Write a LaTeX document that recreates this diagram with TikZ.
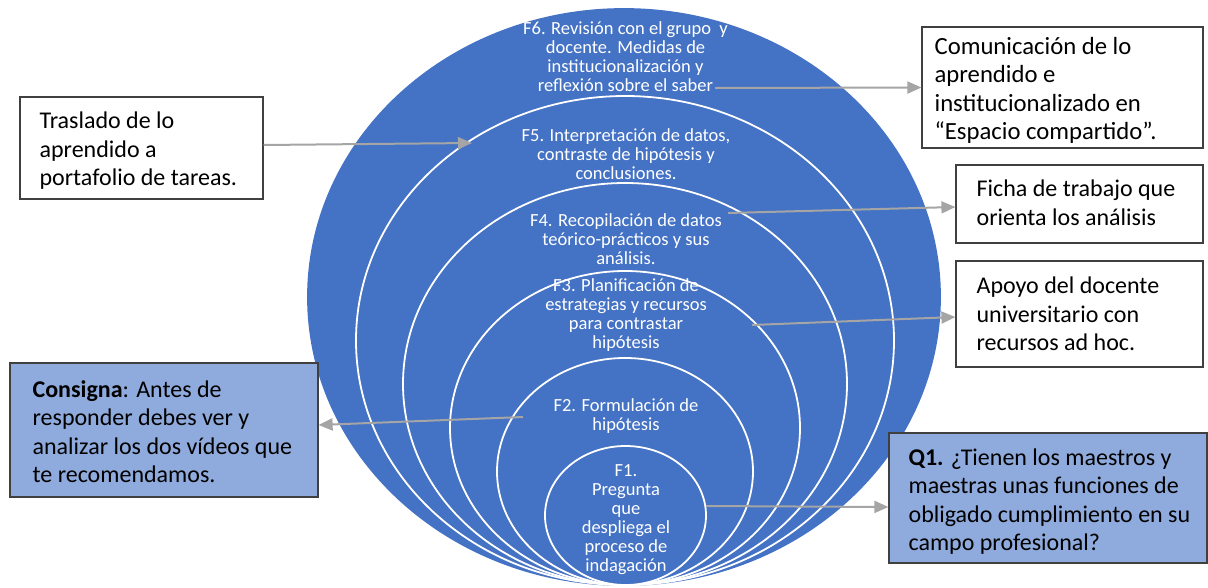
\documentclass[tikz,border=0pt]{standalone}
\usepackage{fontspec}
\setmainfont{Carlito}
\usetikzlibrary{arrows.meta,calc}
\definecolor{fblue}{HTML}{4472C4}
\definecolor{lblue}{HTML}{8FAADC}
\definecolor{agray}{HTML}{A5A5A5}
\definecolor{bord}{HTML}{404040}
\begin{document}
\begin{tikzpicture}[x=1pt,y=-1pt,
  phase/.style={fill=fblue,draw=white,line width=1.8pt},
  ptext/.style={text=white,align=center,font=\fontsize{18.5}{19}\selectfont,inner sep=0pt},
  wbox/.style={draw=bord,line width=1.2pt,fill=white,inner sep=0pt},
  bbox/.style={draw=bord,line width=1.2pt,fill=lblue,inner sep=0pt},
  btext/.style={align=left,font=\fontsize{24}{28.5}\selectfont,inner sep=0pt,anchor=west},
  conn/.style={draw=agray,line width=2pt,-{Triangle[length=14pt,width=12pt]}}
]
\useasboundingbox (0,0) rectangle (1208,587);
% nested phases
\draw[phase,draw=fblue] (624,297) ellipse [x radius=316pt, y radius=288pt];
\draw[phase] (625,340.5) ellipse [x radius=269pt, y radius=244.5pt];
\draw[phase] (625,384) ellipse [x radius=222pt, y radius=201pt];
\draw[phase] (625,428) ellipse [x radius=175pt, y radius=157pt];
\draw[phase] (625,471.5) ellipse [x radius=128pt, y radius=113.5pt];
\draw[phase] (625.5,515.5) ellipse [x radius=80.5pt, y radius=69.5pt];
% phase texts
\node[ptext] (t6) at (625.5,56.5) {F6. Revisión con el grupo\ \ y\\docente. Medidas de\\institucionalización y\\reflexión sobre el saber};
\node[ptext] (t5) at (626,154) {F5. Interpretación de datos,\\contraste de hipótesis y\\conclusiones.};
\node[ptext] (t4) at (626,239.5) {F4. Recopilación de datos\\teórico-prácticos y sus\\análisis.};
\node[ptext] (t3) at (626,315.5) {F3. Planificación de\\estrategias y recursos\\para contrastar\\hipótesis};
\node[ptext] (t2) at (626,416.5) {F2. Formulación de\\hipótesis};
\node[ptext] (t1) at (626,519.5) {F1.\\Pregunta\\que\\despliega el\\proceso de\\indagación};
% side boxes
\node[wbox,minimum width=243pt,minimum height=102pt] (trasl) at (141.5,148) {};
\node[btext] (trasl-t) at ($(trasl.west)+(20,3)$) {Traslado de lo\\aprendido a\\portafolio de tareas.};
\node[bbox,minimum width=308pt,minimum height=134pt] (consigna) at (164,430) {};
\node[btext] (consigna-t) at ($(consigna.west)+(23,1.5)$) {\textbf{Consigna}: Antes de\\responder debes ver y\\analizar los dos vídeos que\\te recomendamos.};
\node[wbox,minimum width=281pt,minimum height=121pt] (com) at (1062.5,87.5) {};
\node[btext,font=\fontsize{24.7}{28.5}\selectfont] (com-t) at ($(com.west)+(13,3)$) {Comunicación de lo\\aprendido e\\institucionalizado en\\“Espacio compartido”.};
\node[wbox,minimum width=247pt,minimum height=78pt] (ficha) at (1079.5,204) {};
\node[btext] (ficha-t) at ($(ficha.west)+(21,-1)$) {Ficha de trabajo que\\orienta los análisis};
\node[wbox,minimum width=247pt,minimum height=106pt] (apoyo) at (1079.5,314) {};
\node[btext] (apoyo-t) at ($(apoyo.west)+(21,0)$) {Apoyo del docente\\universitario con\\recursos ad hoc.};
\node[bbox,minimum width=318pt,minimum height=130pt] (q1) at (1048,498) {};
\node[btext] (q1-t) at ($(q1.west)+(20,3.5)$) {\textbf{Q1.} ¿Tienen los maestros y\\maestras unas funciones de\\obligado cumplimiento en su\\campo profesional?};
% connector ends inside the circles
\coordinate (s6) at (715,88);
\coordinate (e5) at (472,143);
\coordinate (s4) at (728,213);
\coordinate (s3) at (752,325);
\coordinate (s2) at (523,417);
\coordinate (s1) at (706,506);
% connectors
\draw[conn] (s6) -- (com.west);
\draw[conn] ($(trasl.east)+(0,-3)$) -- (e5);
\draw[conn] (s4) -- ($(ficha.west)+(0,3)$);
\draw[conn] (s3) -- ($(apoyo.west)+(0,3)$);
\draw[conn] (s2) -- ($(consigna.east)+(0,-5)$);
\draw[conn] (s1) -- ($(q1.west)+(0,9)$);
\end{tikzpicture}
\end{document}
